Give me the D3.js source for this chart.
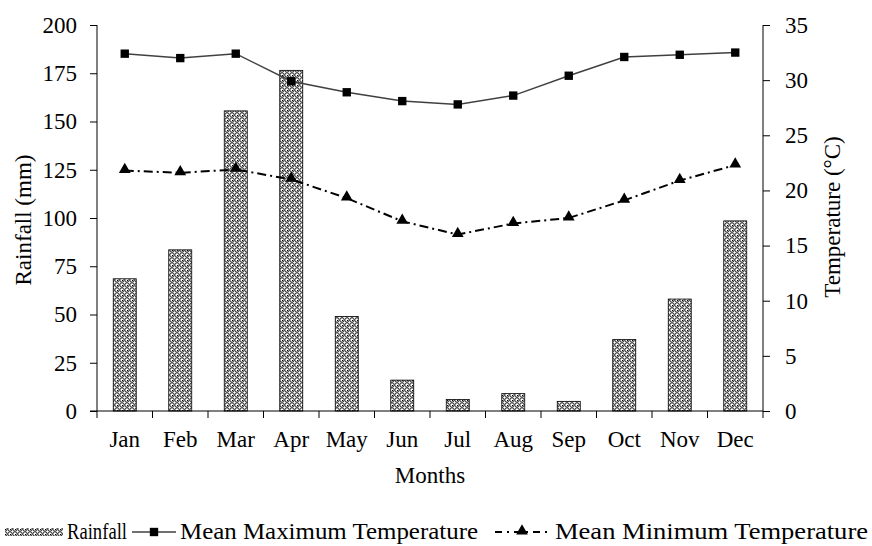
<!DOCTYPE html>
<html>
<head>
<meta charset="utf-8">
<script src="https://cdn.jsdelivr.net/npm/d3@7/dist/d3.min.js"></script>
<style>
  body { margin: 0; background: #fff; }
</style>
</head>
<body>
<div class="chart"></div>
<script>
var months = ["Jan", "Feb", "Mar", "Apr", "May", "Jun", "Jul", "Aug", "Sep", "Oct", "Nov", "Dec"];
var rainfall = [68.5, 83.5, 155.5, 176.5, 49, 16, 6, 9, 5, 37, 58, 98.5];
var maxTemp = [32.4, 32.0, 32.4, 29.9, 28.9, 28.1, 27.8, 28.6, 30.4, 32.1, 32.3, 32.5];
var minTemp = [21.8, 21.6, 21.9, 21.0, 19.3, 17.2, 16.0, 17.0, 17.5, 19.1, 20.9, 22.3];
var rainTicks = [0, 25, 50, 75, 100, 125, 150, 175, 200];
var tempTicks = [0, 5, 10, 15, 20, 25, 30, 35];

var FONT = "'Liberation Serif'";
var FS = "23px";

var dim = {
    width: 872, height: 546,
    margin: { top: 25, right: 109, bottom: 135, left: 97 }
};
dim.plot = {
    width: dim.width - dim.margin.left - dim.margin.right,
    height: dim.height - dim.margin.top - dim.margin.bottom
};

var x = d3.scaleBand().domain(months).range([0, dim.plot.width]);
var yRain = d3.scaleLinear().domain([0, 200]).range([dim.plot.height, 0]);
var yTemp = d3.scaleLinear().domain([0, 35]).range([dim.plot.height, 0]);

var svg = d3.select(".chart").append("svg")
    .attr("width", dim.width)
    .attr("height", dim.height);

// crosshatch-ish fill like the original bars
var defs = svg.append("defs");
var pat = defs.append("pattern")
    .attr("id", "hatch")
    .attr("patternUnits", "userSpaceOnUse")
    .attr("width", 5).attr("height", 5);
pat.append("rect").attr("width", 5).attr("height", 5).attr("fill", "#fff");
pat.append("circle").attr("cx", 2.5).attr("cy", 2.5).attr("r", 1.8)
    .attr("fill", "none").attr("stroke", "#000").attr("stroke-width", 1);
pat.append("rect").attr("x", 0).attr("y", 0).attr("width", 1).attr("height", 1).attr("fill", "#000");

var g = svg.append("g")
    .attr("transform", "translate(" + dim.margin.left + "," + dim.margin.top + ")");

// bars
var barW = 23;
g.append("g").selectAll("rect").data(rainfall).enter().append("rect")
    .attr("x", function(d, i) { return x(months[i]) + x.bandwidth() / 2 - barW / 2; })
    .attr("y", function(d) { return yRain(d); })
    .attr("width", barW)
    .attr("height", function(d) { return yRain(0) - yRain(d); })
    .attr("fill", "url(#hatch)")
    .attr("stroke", "#000")
    .attr("stroke-width", 0.8);

// axes
var leftAxis = d3.axisLeft(yRain).tickValues(rainTicks).tickSize(7).tickPadding(13);
var rightAxis = d3.axisRight(yTemp).tickValues(tempTicks).tickSize(7).tickPadding(15);

var gl = g.append("g").call(leftAxis);
var gr = g.append("g")
    .attr("transform", "translate(" + dim.plot.width + ",0)").call(rightAxis);
[gl, gr].forEach(function(a) {
    a.attr("font-family", null).attr("font-size", null);
    a.select(".domain").attr("d", "M0,0V" + dim.plot.height);
    a.selectAll("text").attr("fill", "#000").style("font-size", FS);
});

// x axis with ticks at band edges
var gx = g.append("g")
    .attr("transform", "translate(0," + dim.plot.height + ")");
gx.append("line").attr("x1", -7).attr("x2", dim.plot.width).attr("stroke", "#000");
gx.selectAll("line.tk").data(d3.range(months.length + 1)).enter().append("line")
    .attr("class", "tk")
    .attr("x1", function(i) { return i * x.step(); })
    .attr("x2", function(i) { return i * x.step(); })
    .attr("y1", 0).attr("y2", 7)
    .attr("stroke", "#000");
gx.selectAll("text").data(months).enter().append("text")
    .attr("x", function(d) { return x(d) + x.bandwidth() / 2; })
    .attr("y", 36)
    .attr("text-anchor", "middle")
    .style("font-size", FS)
    .text(function(d) { return d; });

// lines
var cx = function(d, i) { return x(months[i]) + x.bandwidth() / 2; };
var lineT = d3.line().x(cx).y(function(d) { return yTemp(d); });
g.append("path").datum(maxTemp)
    .attr("d", lineT)
    .attr("fill", "none").attr("stroke", "#404040").attr("stroke-width", 1.5);
g.append("path").datum(minTemp)
    .attr("d", lineT)
    .attr("fill", "none").attr("stroke", "#000").attr("stroke-width", 2)
    .attr("stroke-dasharray", "9,4,2,4");

var square = d3.symbol().type(d3.symbolSquare).size(70);
var triangle = d3.symbol().type(d3.symbolTriangle).size(60);
g.append("g").selectAll("path").data(maxTemp).enter().append("path")
    .attr("transform", function(d, i) { return "translate(" + cx(d, i) + "," + yTemp(d) + ")"; })
    .attr("d", square).attr("fill", "#000");
g.append("g").selectAll("path").data(minTemp).enter().append("path")
    .attr("transform", function(d, i) { return "translate(" + cx(d, i) + "," + (yTemp(d) - 1) + ")"; })
    .attr("d", triangle).attr("fill", "#000");

// axis titles
svg.append("text")
    .attr("transform", "translate(31,220) rotate(-90)")
    .attr("text-anchor", "middle").style("font-size", FS)
    .text("Rainfall (mm)");
svg.append("text")
    .attr("transform", "translate(840,217) rotate(-90)")
    .attr("text-anchor", "middle").style("font-size", FS)
    .text("Temperature (°C)");
svg.append("text")
    .attr("x", 430)
    .attr("y", 483)
    .attr("text-anchor", "middle").style("font-size", FS)
    .text("Months");

// legend
var lg = svg.append("g").attr("transform", "translate(0,539)");
lg.append("rect").attr("x", 5).attr("y", -11).attr("width", 58).attr("height", 8)
    .attr("fill", "url(#hatch)");
lg.append("text").attr("x", 67).attr("y", 0).style("font-size", "24px")
    .attr("textLength", 60).attr("lengthAdjust", "spacingAndGlyphs").text("Rainfall");
lg.append("line").attr("x1", 132).attr("x2", 176).attr("y1", -7).attr("y2", -7)
    .attr("stroke", "#404040").attr("stroke-width", 1.5);
lg.append("path").attr("transform", "translate(154,-7)").attr("d", square).attr("fill", "#000");
lg.append("text").attr("x", 180).attr("y", 0).style("font-size", "24px")
    .attr("textLength", 298).attr("lengthAdjust", "spacingAndGlyphs").text("Mean Maximum Temperature");
lg.append("line").attr("x1", 495).attr("x2", 550).attr("y1", -7).attr("y2", -7)
    .attr("stroke", "#000").attr("stroke-width", 2).attr("stroke-dasharray", "7,5,2,5");
lg.append("path").attr("transform", "translate(522,-8)").attr("d", triangle).attr("fill", "#000");
lg.append("text").attr("x", 555).attr("y", 0).style("font-size", "24px")
    .attr("textLength", 313).attr("lengthAdjust", "spacingAndGlyphs").text("Mean Minimum Temperature");

// serif on every label
svg.selectAll("text").style("font-family", FONT).attr("fill", "#000");
</script>
</body>
</html>
